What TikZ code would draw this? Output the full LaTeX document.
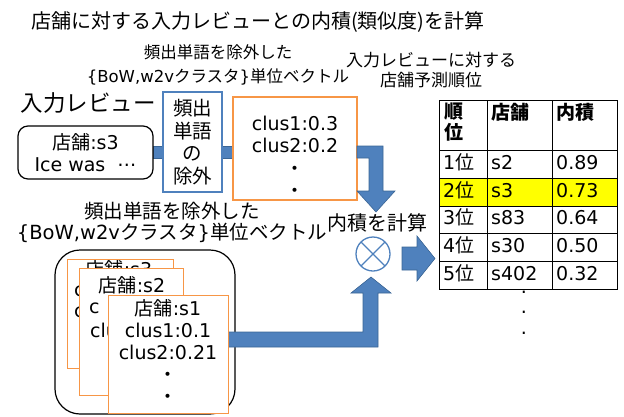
\documentclass[tikz,border=0pt]{standalone}
\usepackage{fontspec}
\setmainfont{DejaVu Sans}
\newfontfamily\jp{Noto Sans CJK JP}
\definecolor{arrowblue}{HTML}{4F81BD}
\definecolor{arrowedge}{HTML}{3A6595}
\definecolor{boxorange}{HTML}{F79646}
\definecolor{hiyellow}{HTML}{FFFF00}
\tikzset{
  blockarrow/.style={fill=arrowblue, draw=arrowedge, line width=0.6pt},
  txt/.style={inner sep=0pt, align=center},
  card/.style={draw=boxorange, fill=white, line width=1.2pt, inner sep=0pt, anchor=north west},
  frag/.style={inner sep=0pt, anchor=west, font=\fontsize{19}{22}\selectfont},
  cellt/.style={inner sep=0pt, anchor=west, text height=14pt, text depth=4pt, font=\fontsize{19}{22}\selectfont},
  hdr/.style={inner sep=0pt, anchor=north west, align=left, font=\jp\bfseries\fontsize{19}{21}\selectfont},
  dotmark/.style={inner sep=0pt, font=\fontsize{19}{22}\selectfont}
}
\begin{document}
\begin{tikzpicture}[x=1pt,y=-1pt]
\useasboundingbox (0,0) rectangle (624,416);

% title and labels
\node[txt, font={\jp\fontsize{20}{24}\selectfont}] (title) at (258,22) {店舗に対する入力レビューとの内積(類似度)を計算};
\node[txt, font=\fontsize{16.5}{24}\selectfont] (ulab) at (218,65) {{\jp 頻出単語を除外した}\\\{BoW,w2v{\jp クラスタ}\}{\jp 単位ベクトル}};
\node[txt, font={\jp\fontsize{17}{20}\selectfont}] (rlab) at (431,70) {入力レビューに対する\\店舗予測順位};
\node[txt, font={\jp\fontsize{22.5}{26}\selectfont}] (inlab) at (88,103) {入力レビュー};

% bar behind upper boxes
\draw[blockarrow] (153,146) rectangle (233,158);

% input review
\node[draw, fill=white, rounded corners=10pt, line width=1.2pt, minimum width=135pt, minimum height=53pt, inner sep=0pt, align=center, font=\fontsize{19}{22}\selectfont] (review) at (85.5,152.5) {{\jp 店舗}:s3\\Ice was\ \ \raisebox{5pt}{…}};

% filter box
\node[draw=arrowblue, fill=white, line width=1.2pt, minimum width=59pt, minimum height=100pt, inner sep=0pt, align=center, font={\jp\fontsize{19.5}{22.7}\selectfont}] (filter) at (192.5,142) {頻出\\単語\\の\\除外};

% vector box
\node[draw=boxorange, fill=white, line width=1.2pt, minimum width=124pt, minimum height=103pt, inner sep=0pt] (vec) at (295,148.5) {};
\node[txt, font=\fontsize{19}{22.5}\selectfont] (vectxt) at (295,157) {clus1:0.3\\clus2:0.2\\{\jp ・}\\{\jp ・}};

% top bent arrow
\draw[blockarrow] (357,146) -- (383,146) -- (383,191) -- (395,191) -- (376,212) -- (357,191) -- (369,191) -- (369,158) -- (357,158) -- cycle;

% compute label and product circle
\node[txt, font={\jp\fontsize{20}{24}\selectfont}] (calc) at (377,223) {内積を計算};
\node[circle, draw=arrowblue, line width=1.3pt, minimum size=34pt, inner sep=0pt, outer sep=0pt] (prod) at (373,254) {};
\draw[arrowblue, line width=1.3pt] (prod.north east) -- (prod.south west) (prod.north west) -- (prod.south east);

% right arrow
\draw[blockarrow] (402,247) -- (417,247) -- (417,236) -- (435,258.5) -- (417,281) -- (417,270) -- (402,270) -- cycle;

% table
\fill[hiyellow] (439,178) rectangle (617,206);
\node[draw, line width=0.9pt, minimum width=178pt, minimum height=189pt, inner sep=0pt, outer sep=0pt, anchor=north west] (table) at (439,100) {};
\foreach \yy in {150,178,206,233,261} \draw[line width=0.9pt] (439,\yy) -- (617,\yy);
\foreach \xx in {487,552} \draw[line width=0.9pt] (\xx,100) -- (\xx,289);
\node[hdr] (h1) at (444,103) {順\\位};
\node[hdr] (h2) at (491,103) {店舗};
\node[hdr] (h3) at (556,103) {内積};
\foreach \yy/\a/\b/\c [count=\i] in {164/1/s2/0.89, 192/2/s3/0.73, 219.5/3/s83/0.64, 247/4/s30/0.50, 275/5/s402/0.32} {
  \node[cellt] (r\i a) at (443,\yy) {\a{\jp 位}};
  \node[cellt] (r\i b) at (491,\yy) {\b};
  \node[cellt] (r\i c) at (556,\yy) {\c};
}
\node[dotmark] (more1) at (524,292) {.};
\node[dotmark] (more2) at (524,312) {.};
\node[dotmark] (more3) at (524,333) {.};

% lower label
\node[txt, font=\fontsize{19.5}{21.5}\selectfont] (blab) at (172,222.5) {{\jp 頻出単語を除外した}\\\{BoW,w2v{\jp クラスタ}\}{\jp 単位ベクトル}};

% stack container
\node[draw, line width=1.2pt, rounded corners=25pt, minimum width=180pt, minimum height=164pt, inner sep=0pt, outer sep=0pt] (stack) at (145,332) {};

% bottom bent arrow
\draw[blockarrow] (228,347) -- (378,347) -- (378,293) -- (391,293) -- (371,277) -- (351,293) -- (363,293) -- (363,332) -- (228,332) -- cycle;

% card s3
\node[card, minimum width=106pt, minimum height=109pt] (s3) at (67,259) {};
\node[txt, font=\fontsize{19}{22}\selectfont] (s3name) at (119,269.5) {{\jp 店舗}:s3};
\node[frag] (s3a) at (74,291) {c};
\node[frag] (s3b) at (74,312) {c};

% card s2
\node[card, minimum width=104pt, minimum height=127pt] (s2) at (79,268) {};
\node[txt, font=\fontsize{19}{22}\selectfont] (s2name) at (132,285) {{\jp 店舗}:s2};
\node[frag] (s2a) at (89,308) {c};
\node[frag] (s2b) at (90,330) {clu};

% card s1
\node[card, minimum width=120pt, minimum height=118pt] (s1) at (108,295) {};
\node[txt, font=\fontsize{19}{22}\selectfont] (s1txt) at (168,352) {{\jp 店舗}:s1\\clus1:0.1\\clus2:0.21\\{\jp ・}\\{\jp ・}};
\end{tikzpicture}
\end{document}
